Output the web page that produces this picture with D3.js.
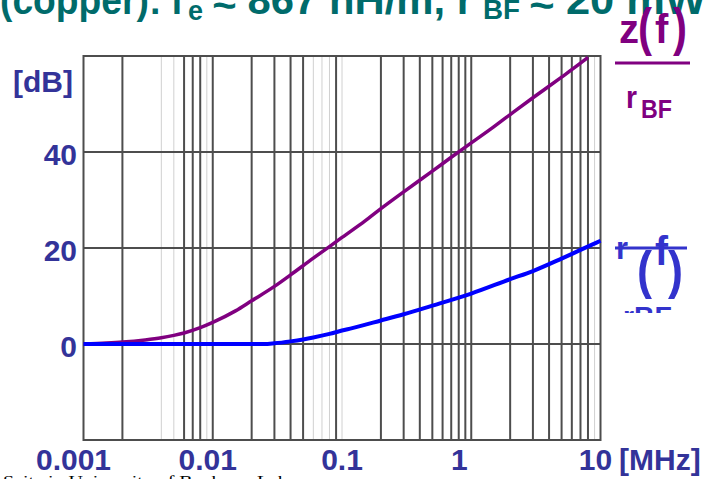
<!DOCTYPE html>
<html>
<head>
<meta charset="utf-8">
<script src="https://cdn.jsdelivr.net/npm/d3@7"></script>
<style>
  html, body { margin: 0; padding: 0; background: #fff; }
  svg { display: block; font-family: "Liberation Sans", Arial, sans-serif; }
</style>
</head>
<body>
<svg id="chart" width="706" height="479"></svg>
<script>
// axis values
const freqTicks = [0.001, 0.01, 0.1, 1, 10];
const freqTickLabels = ["0.001", "0.01", "0.1", "1", "10"];
const dbTicks = [0, 20, 40];
const dbTickLabels = ["0", "20", "40"];

// vertical grid lines (dark ones and faint ones as they show in the picture)
const gridDark = [0.002, 0.006, 0.007, 0.008, 0.01, 0.02, 0.03, 0.04, 0.05, 0.09,
  0.2, 0.3, 0.4, 0.5, 0.6, 0.7, 0.8, 0.9, 1, 2, 3, 4, 5, 6, 7, 8];
const gridLight = [0.004, 0.005, 0.009, 0.06, 0.07, 0.08, 0.1, 9];

// |z(f)| / r_BF in dB
const zFreq = [0.001, 0.0015, 0.002, 0.003, 0.004, 0.005, 0.006, 0.008, 0.01, 0.015, 0.02,
  0.03, 0.04, 0.06, 0.08, 0.1, 0.15, 0.2, 0.3, 0.5, 0.7, 1, 1.5, 2, 3, 5, 7, 8];
const zDb = [0, 0.2, 0.4, 0.85, 1.3, 1.8, 2.3, 3.4, 4.5, 6.9, 9.0,
  12.0, 14.4, 17.9, 20.3, 22.2, 25.6, 28.2, 31.7, 36.0, 38.9, 41.9, 45.3, 47.8, 51.3, 55.6, 58.5, 59.7];

// r(f) / r_BF in dB
const rFreq = [0.001, 0.01, 0.025, 0.03, 0.04, 0.05, 0.06, 0.08, 0.1, 0.12, 0.2, 0.3, 0.5,
  1, 2, 3, 5, 7, 10];
const rDb = [0, 0, 0, 0.15, 0.55, 0.95, 1.35, 2.1, 2.8, 3.3, 4.9, 6.2, 8.0,
  10.5, 13.5, 15.2, 17.8, 19.6, 21.5];

const svg = d3.select("#chart");
const gridColor = "#4d4d4d";
const labelBlue = "#333399";

const x = d3.scaleLog().domain([0.001, 10]).range([83.5, 600.5]);
const y = d3.scaleLinear().domain([-20, 60]).range([440, 56]);

svg.append("defs").append("clipPath").attr("id", "plot")
  .append("rect").attr("x", x(0.001)).attr("y", y(60))
  .attr("width", x(10) - x(0.001)).attr("height", y(-20) - y(60));

// faint grid lines
svg.append("g").selectAll("line").data(gridLight).join("line")
  .attr("x1", d => x(d)).attr("x2", d => x(d))
  .attr("y1", y(60)).attr("y2", y(-20))
  .attr("stroke", "#d0d0d0").attr("stroke-width", 1);

// dark grid lines
svg.append("g").selectAll("line").data(gridDark).join("line")
  .attr("x1", d => x(d)).attr("x2", d => x(d))
  .attr("y1", y(60)).attr("y2", y(-20))
  .attr("stroke", gridColor).attr("stroke-width", 2);

svg.append("g").selectAll("line").data(dbTicks).join("line")
  .attr("x1", x(0.001)).attr("x2", x(10))
  .attr("y1", d => y(d)).attr("y2", d => y(d))
  .attr("stroke", gridColor).attr("stroke-width", 2);

// frame
svg.append("rect")
  .attr("x", x(0.001)).attr("y", y(60))
  .attr("width", x(10) - x(0.001)).attr("height", y(-20) - y(60))
  .attr("fill", "none").attr("stroke", gridColor).attr("stroke-width", 2);

const line = d3.line().x(d => x(d[0])).y(d => y(d[1])).curve(d3.curveMonotoneX);

svg.append("path")
  .datum(zFreq.map((f, i) => [f, zDb[i]]))
  .attr("clip-path", "url(#plot)")
  .attr("d", line)
  .attr("fill", "none").attr("stroke", "#800080").attr("stroke-width", 3.5);

svg.append("path")
  .datum(rFreq.map((f, i) => [f, rDb[i]]))
  .attr("d", line)
  .attr("fill", "none").attr("stroke", "#0000ff").attr("stroke-width", 4);

// x tick labels (hand placed in the original, slightly off the ticks)
const xLabelShift = [-10, -5, 0, -12, -5];
svg.append("g").selectAll("text").data(freqTicks).join("text")
  .attr("x", (d, i) => x(d) + xLabelShift[i])
  .attr("y", 470)
  .attr("text-anchor", "middle")
  .attr("font-size", 30).attr("font-weight", 700).attr("fill", labelBlue)
  .text((d, i) => freqTickLabels[i]);

svg.append("text")
  .attr("x", 619).attr("y", 470)
  .attr("font-size", 30).attr("font-weight", 700).attr("fill", labelBlue)
  .text("[MHz]");

svg.append("g").selectAll("text").data(dbTicks).join("text")
  .attr("x", 77)
  .attr("y", d => y(d) + 13)
  .attr("text-anchor", "end")
  .attr("font-size", 30).attr("font-weight", 700).attr("fill", labelBlue)
  .text((d, i) => dbTickLabels[i]);

svg.append("text")
  .attr("x", 73).attr("y", 92)
  .attr("text-anchor", "end")
  .attr("font-size", 30).attr("font-weight", 700).attr("fill", labelBlue)
  .text("[dB]");

// title, only its lower part is on the picture
const teal = "#006b6b";
const title = svg.append("g").attr("fill", teal).attr("font-weight", 700);
[
  { t: "(copper): l", x: 0, y: 14, s: 40, w: 182 },
  { t: "e", x: 188, y: 20, s: 27, w: 15 },
  { t: "\u2248 867 nH/m, r", x: 213, y: 14, s: 40, w: 260 },
  { t: "BF", x: 483, y: 18.5, s: 27, w: 37 },
  { t: "\u2248 20 mW", x: 530, y: 14, s: 40, w: 176 },
].forEach(p => {
  title.append("text")
    .attr("x", p.x).attr("y", p.y)
    .attr("font-size", p.s)
    .attr("textLength", p.w).attr("lengthAdjust", "spacingAndGlyphs")
    .text(p.t);
});

// z(f) / r_BF label
const zl = svg.append("g").attr("fill", "#800080").attr("font-weight", 700);
zl.append("text").attr("x", 619).attr("y", 43).attr("font-size", 40).text("z");
zl.append("text").attr("x", 638).attr("y", 45).attr("font-size", 52)
  .attr("textLength", 14).attr("lengthAdjust", "spacingAndGlyphs").text("(");
zl.append("text").attr("x", 655).attr("y", 43).attr("font-size", 40).text("f");
zl.append("text").attr("x", 673).attr("y", 45).attr("font-size", 52)
  .attr("textLength", 14).attr("lengthAdjust", "spacingAndGlyphs").text(")");
zl.append("line").attr("x1", 615).attr("x2", 690).attr("y1", 63).attr("y2", 63)
  .attr("stroke", "#800080").attr("stroke-width", 3);
zl.append("text").attr("x", 626).attr("y", 108).attr("font-size", 32)
  .attr("textLength", 11).attr("lengthAdjust", "spacingAndGlyphs").text("r");
zl.append("text").attr("x", 641).attr("y", 118).attr("font-size", 26)
  .attr("textLength", 31).attr("lengthAdjust", "spacingAndGlyphs").text("BF");

// r(f) / r_BF label (garbled in the original)
const blueLbl = "#3333cc";
svg.select("defs").append("clipPath").attr("id", "rclip")
  .append("rect").attr("x", 605).attr("y", 220).attr("width", 101).attr("height", 93);
const rl = svg.append("g").attr("fill", blueLbl).attr("font-weight", 700)
  .attr("clip-path", "url(#rclip)");
rl.append("text").attr("x", 616).attr("y", 259).attr("font-size", 32)
  .attr("textLength", 12).attr("lengthAdjust", "spacingAndGlyphs").text("r");
rl.append("text").attr("x", 637).attr("y", 288).attr("font-size", 52)
  .attr("textLength", 15).attr("lengthAdjust", "spacingAndGlyphs").text("(");
rl.append("text").attr("x", 655).attr("y", 265).attr("font-size", 40)
  .attr("textLength", 13).attr("lengthAdjust", "spacingAndGlyphs").text("f");
rl.append("text").attr("x", 668).attr("y", 288).attr("font-size", 52)
  .attr("textLength", 15).attr("lengthAdjust", "spacingAndGlyphs").text(")");
rl.append("line").attr("x1", 615).attr("x2", 687).attr("y1", 248).attr("y2", 248)
  .attr("stroke", blueLbl).attr("stroke-width", 3);
rl.append("text").attr("x", 623).attr("y", 326).attr("font-size", 28)
  .attr("textLength", 49).attr("lengthAdjust", "spacingAndGlyphs").text("rBF");

// footer, cut by the bottom edge
svg.append("text")
  .attr("x", 3).attr("y", 486)
  .attr("font-family", "'Liberation Serif', 'Times New Roman', serif")
  .attr("font-size", 15).attr("fill", "#000")
  .attr("textLength", 285).attr("lengthAdjust", "spacingAndGlyphs")
  .text("Seitz in University of Bochum, Lab");
</script>
</body>
</html>
